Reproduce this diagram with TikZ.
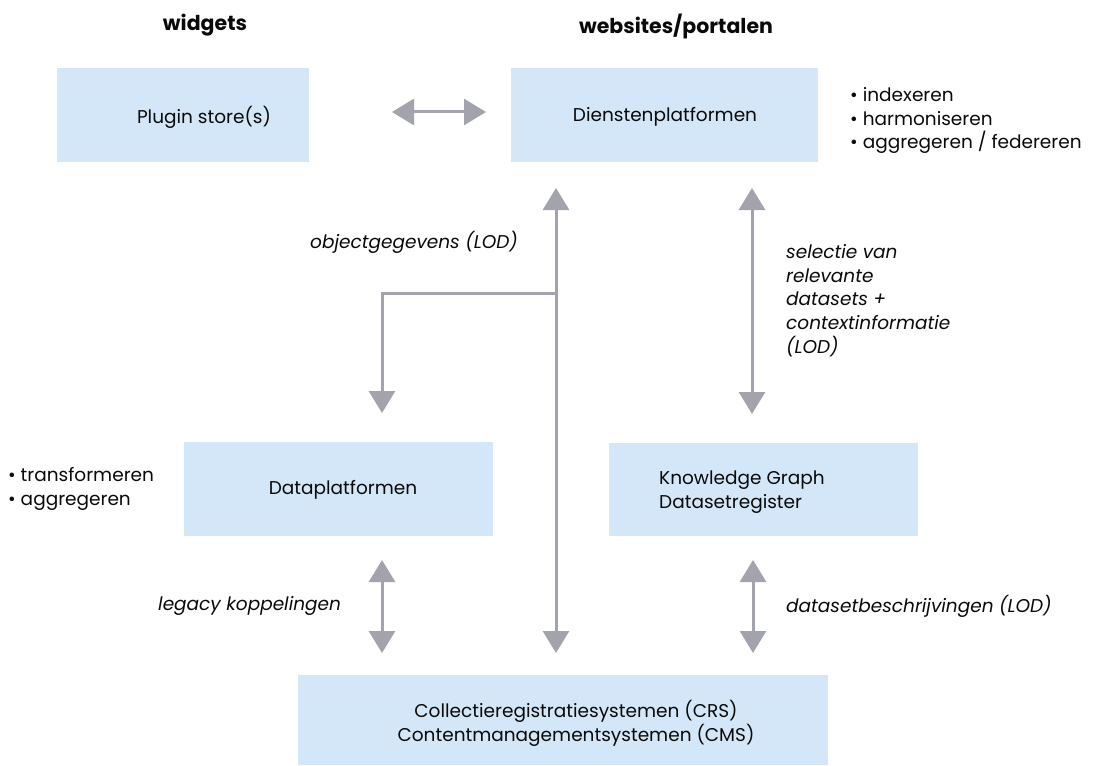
\documentclass[tikz,border=0pt]{standalone}
\usepackage{fontspec}
\setmainfont{Poppins}
\usetikzlibrary{arrows.meta}
\definecolor{boxblue}{RGB}{212,231,248}
\definecolor{arrowgray}{RGB}{163,163,174}
\definecolor{ink}{RGB}{10,10,10}
\begin{document}
\begin{tikzpicture}[x=1pt,y=-1pt,
  every node/.style={text=ink},
  box/.style={fill=boxblue,draw=none,inner sep=0pt},
  lbl/.style={font=\fontsize{18.5}{23.8}\selectfont\itshape,inner sep=0pt},
  txt/.style={font=\fontsize{18.5}{23.8}\selectfont,inner sep=0pt},
  head/.style={font=\fontsize{20.5}{24}\selectfont\bfseries,inner sep=0pt},
  conn/.style={draw=arrowgray,line width=3pt},
  tip/.style={-{Triangle[width=26pt,length=22pt]}},
  tips/.style={{Triangle[width=26pt,length=22pt]}-{Triangle[width=26pt,length=22pt]}}]
\useasboundingbox (0,0) rectangle (1094,765);

\node[head] (hw) at (205,25) {widgets};
\node[head] (hp) at (676,26) {websites/portalen};

\node[box,minimum width=252pt,minimum height=94pt] (plugin) at (183,115) {};
\node[txt] at (204,117) {Plugin store(s)};
\node[box,minimum width=307pt,minimum height=94pt] (dienst) at (664.5,115) {};
\node[txt] at (665,117) {Dienstenplatformen};
\node[box,minimum width=309pt,minimum height=94pt] (data) at (338,489) {};
\node[txt] at (343,490) {Dataplatformen};
\node[box,minimum width=309pt,minimum height=93pt] (kg) at (763.5,489.5) {};
\node[txt,align=left,anchor=west] at (659,492) {Knowledge Graph\\Datasetregister};
\node[box,minimum width=530pt,minimum height=90pt] (crs) at (563,720) {};
\node[txt,align=center] at (576,723) {Collectieregistratiesystemen (CRS)\\Contentmanagementsystemen (CMS)};

\node[txt,align=left,anchor=north west] (b1) at (850,87) {• indexeren\\• harmoniseren\\• aggregeren / federeren};
\node[txt,align=left,anchor=north west] (b2) at (8,467) {• transformeren\\• aggregeren};

\node[lbl,anchor=west] (l1) at (310,242) {objectgegevens (LOD)};
\node[lbl,align=left,anchor=north west] (l2) at (786,244) {selectie van\\relevante\\datasets +\\contextinformatie\\(LOD)};
\node[lbl,anchor=west] (l3) at (158,606) {legacy koppelingen};
\node[lbl,anchor=west] (l4) at (786,606) {datasetbeschrijvingen (LOD)};

\coordinate (hl) at (392,112);
\coordinate (hr) at (486,112);
\coordinate (mt) at (556,188);
\coordinate (mb) at (556,653);
\coordinate (mj) at (556,293);
\coordinate (bd) at (382,413);
\coordinate (rt) at (752,188);
\coordinate (rb) at (752,414);
\coordinate (lt) at (382,560);
\coordinate (lb) at (382,653);
\coordinate (qt) at (753,560);
\coordinate (qb) at (753,653);

\draw[conn,tips] (hl) -- (hr);
\draw[conn,tips] (mt) -- (mb);
\draw[conn,tip] (mj) -| (bd);
\draw[conn,tips] (rt) -- (rb);
\draw[conn,tips] (lt) -- (lb);
\draw[conn,tips] (qt) -- (qb);
\end{tikzpicture}
\end{document}
